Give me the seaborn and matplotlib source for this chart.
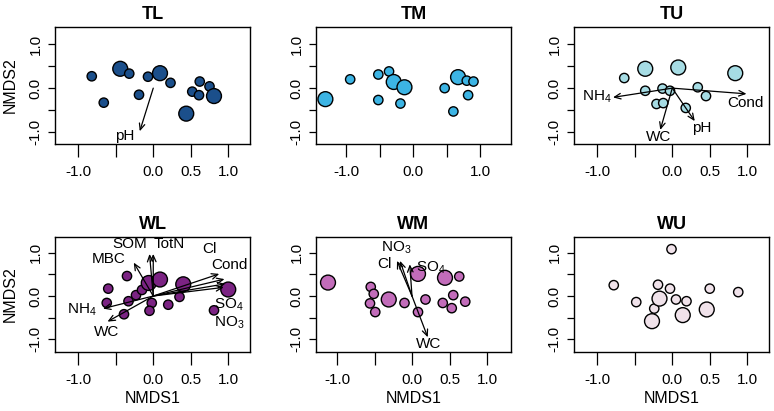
import numpy as np
import pandas as pd
import matplotlib
matplotlib.use("Agg")
import matplotlib.pyplot as plt
import seaborn as sns

# ── NMDS site scores (size class 1 = small, 2 = large symbol) ─────────────────
panels = ['TL', 'TM', 'TU', 'WL', 'WM', 'WU']
colors = ['#1b4f8b', '#3cb4e4', '#a6dce4', '#7b2383', '#c26cba', '#f0e2ea']

tl_x = [-0.82, -0.66, -0.44, -0.32, -0.19, -0.07, 0.09, 0.23, 0.52, 0.62, 0.61, 0.75, 0.81, 0.44]
tl_y = [0.27, -0.33, 0.44, 0.33, -0.15, 0.26, 0.34, 0.12, -0.08, 0.15, -0.16, 0.04, -0.18, -0.58]
tl_s = [1, 1, 2, 1, 1, 1, 2, 1, 1, 1, 1, 1, 2, 2]

tm_x = [-1.31, -0.94, -0.52, -0.36, -0.29, -0.13, -0.52, -0.19, 0.47, 0.67, 0.80, 0.90, 0.82, 0.60]
tm_y = [-0.25, 0.20, 0.31, 0.38, 0.14, 0.02, -0.27, -0.35, 0.00, 0.25, 0.17, 0.15, -0.16, -0.53]
tm_s = [2, 1, 1, 1, 2, 2, 1, 1, 1, 2, 1, 1, 1, 1]

tu_x = [-0.64, -0.36, -0.36, -0.13, -0.03, -0.21, -0.12, 0.08, 0.34, 0.45, 0.18, 0.84]
tu_y = [0.23, 0.44, -0.06, -0.01, -0.06, -0.36, -0.34, 0.47, 0.02, -0.18, -0.45, 0.34]
tu_s = [1, 2, 1, 1, 1, 1, 1, 2, 1, 1, 1, 2]

wl_x = [-0.60, -0.62, -0.35, -0.33, -0.39, -0.23, -0.15, -0.06, 0.09, -0.02, -0.05, 0.20, 0.40, 0.35, 1.00, 0.81]
wl_y = [0.17, -0.16, 0.46, -0.12, -0.42, 0.02, 0.14, 0.30, 0.38, -0.16, -0.34, -0.20, 0.27, -0.02, 0.15, -0.33]
wl_s = [1, 1, 1, 1, 1, 1, 1, 2, 2, 1, 1, 1, 2, 1, 2, 1]

wm_x = [-1.12, -0.55, -0.51, -0.56, -0.49, -0.31, -0.10, 0.08, 0.08, 0.18, 0.44, 0.63, 0.55, 0.41, 0.53, 0.71]
wm_y = [0.31, 0.21, 0.05, -0.17, -0.37, -0.08, -0.16, 0.51, -0.37, -0.08, 0.42, 0.45, 0.02, -0.16, -0.28, -0.13]
wm_s = [2, 1, 1, 1, 1, 2, 1, 2, 1, 1, 2, 1, 1, 1, 1, 1]

wu_x = [-0.78, -0.48, -0.24, -0.27, -0.19, -0.17, -0.03, -0.01, 0.05, 0.19, 0.14, 0.46, 0.50, 0.88]
wu_y = [0.25, -0.14, -0.29, -0.58, 0.26, -0.06, 0.17, 1.08, -0.08, -0.12, -0.44, -0.31, 0.17, 0.09]
wu_s = [1, 1, 1, 2, 1, 2, 1, 1, 1, 1, 2, 2, 1, 1]

# ── envfit vectors: name, arrow head, label position ─────────────────────────
tl_vec = ['pH']
tl_vx, tl_vy = [-0.18], [-0.98]
tl_lx, tl_ly = [-0.38], [-1.08]

tu_vec = ['NH$_4$', 'Cond', 'WC', 'pH']
tu_vx, tu_vy = [-0.79, 0.99, -0.16, 0.30], [-0.21, -0.13, -0.95, -0.75]
tu_lx, tu_ly = [-1.01, 0.98, -0.18, 0.39], [-0.20, -0.33, -1.11, -0.91]

wl_vec = ['SOM', 'TotN', 'MBC', 'Cl', 'Cond', 'SO$_4$', 'NO$_3$', 'NH$_4$', 'WC']
wl_vx = [-0.05, 0.00, -0.26, 0.88, 0.95, 0.96, 0.94, -0.67, -0.61]
wl_vy = [0.97, 0.97, 0.77, 0.51, 0.39, 0.28, 0.20, -0.29, -0.59]
wl_lx = [-0.32, 0.21, -0.59, 0.75, 1.01, 1.01, 1.01, -0.95, -0.62]
wl_ly = [1.20, 1.19, 0.85, 1.08, 0.71, -0.20, -0.61, -0.31, -0.84]

wm_vec = ['Cl', 'NO$_3$', 'SO$_4$', 'WC']
wm_vx, wm_vy = [-0.20, -0.16, -0.03, 0.21], [0.81, 0.81, 0.73, -0.95]
wm_lx, wm_ly = [-0.37, -0.21, 0.25, 0.22], [0.73, 1.12, 0.64, -1.11]

sites = [(tl_x, tl_y, tl_s), (tm_x, tm_y, tm_s), (tu_x, tu_y, tu_s),
         (wl_x, wl_y, wl_s), (wm_x, wm_y, wm_s), (wu_x, wu_y, wu_s)]
vectors = {'TL': (tl_vec, tl_vx, tl_vy, tl_lx, tl_ly),
           'TU': (tu_vec, tu_vx, tu_vy, tu_lx, tu_ly),
           'WL': (wl_vec, wl_vx, wl_vy, wl_lx, wl_ly),
           'WM': (wm_vec, wm_vx, wm_vy, wm_lx, wm_ly)}

# axis ranges as drawn in each panel
xlims = [(-1.31, 1.29), (-1.45, 1.46), (-1.31, 1.29),
         (-1.31, 1.29), (-1.28, 1.32), (-1.31, 1.29)]
ylims = [(-1.27, 1.39)] * 3 + [(-1.29, 1.36)] * 3
ticks = [-1.0, -0.5, 0.0, 0.5, 1.0]

# ── Style ─────────────────────────────────────────────────────────────────────
sns.set_style('ticks')
plt.rcParams['font.family'] = ['Liberation Sans', 'DejaVu Sans']
plt.rcParams['mathtext.default'] = 'regular'
plt.rcParams['text.color'] = 'black'
plt.rcParams['axes.labelcolor'] = 'black'

W, H = 774, 411
fig = plt.figure(figsize=(W / 100, H / 100), dpi=100)
lefts = [55, 316, 574]
rows = [(27, 144), (237, 352)]

for i, name in enumerate(panels):
    r, c = divmod(i, 3)
    top, bot = rows[r]
    ax = fig.add_axes([lefts[c] / W, (H - bot) / H, 195 / W, (bot - top) / H])

    x, y, s = sites[i]
    df = pd.DataFrame({'NMDS1': x, 'NMDS2': y, 'size': s})
    sns.scatterplot(data=df, x='NMDS1', y='NMDS2', size='size',
                    sizes={1: 45, 2: 115}, color=colors[i],
                    edgecolor='black', linewidth=1.0, legend=False,
                    alpha=1, zorder=3, ax=ax)

    if name in vectors:
        vn, vx, vy, lx, ly = vectors[name]
        for n, ex, ey, tx, ty in zip(vn, vx, vy, lx, ly):
            ax.annotate('', xy=(ex, ey), xytext=(0, 0), zorder=4,
                        arrowprops=dict(arrowstyle='->,head_length=0.45,head_width=0.2',
                                        color='black', lw=0.9,
                                        shrinkA=0, shrinkB=0))
            ax.text(tx, ty, n, ha='center', va='center', fontsize=11, zorder=5)

    ax.set_xlim(*xlims[i])
    ax.set_ylim(*ylims[i])
    ax.set_xticks(ticks)
    if name == 'TM':
        ax.set_xticklabels(['-1.0', '', '0.0', '', '1.0'])
    else:
        ax.set_xticklabels(['-1.0', '', '0.0', '0.5', '1.0'])
    ax.set_yticks(ticks)
    ax.set_yticklabels(['-1.0', '', '0.0', '', '1.0'], rotation=90, va='center')
    ax.tick_params(axis='x', length=9, width=0.9, pad=6, labelsize=11, colors='black')
    ax.tick_params(axis='y', length=5, width=0.9, pad=4, labelsize=11, colors='black')
    for sp in ax.spines.values():
        sp.set_visible(True)
        sp.set_linewidth(1.0)
        sp.set_color('black')

    ax.set_title(name, fontsize=13, fontweight='bold', pad=6, color='black')

    if c == 0:
        ax.set_ylabel('NMDS2', fontsize=11.5)
        ax.yaxis.set_label_coords(-45 / 195, 0.5)
        ax.yaxis.label.set_va('center')
    else:
        ax.set_ylabel('')
    if r == 1:
        ax.set_xlabel('NMDS1', fontsize=11.5)
        ax.xaxis.set_label_coords(0.5, -46 / 115)
        ax.xaxis.label.set_va('center')
    else:
        ax.set_xlabel('')

fig.savefig('out.png', dpi=100)
